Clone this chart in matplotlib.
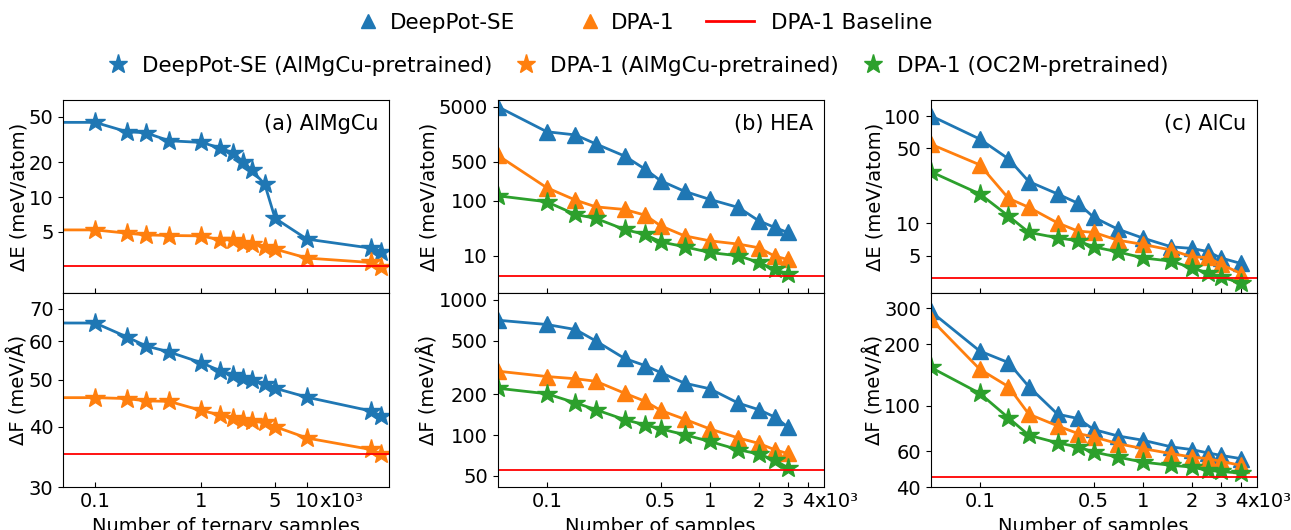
import matplotlib
matplotlib.use("Agg")
import matplotlib.pyplot as plt
from matplotlib.lines import Line2D
from matplotlib.legend_handler import HandlerLine2D
from matplotlib.ticker import NullLocator

blue, orange, green = '#1f77b4', '#ff7f0e', '#2ca02c'

# (a) AlMgCu -- x in units of 10^3 ternary samples
x_a = [0.02, 0.1, 0.2, 0.3, 0.5, 1, 1.5, 2, 2.5, 3, 4, 5, 10, 40, 50]
e_a_se_pt = [44.7, 44.7, 37.0, 36.3, 30.9, 29.9, 26.9, 24.2, 20.3, 17.2, 12.9, 6.53, 4.30, 3.59, 3.31]
e_a_dpa_pt = [5.17, 5.17, 4.84, 4.68, 4.62, 4.59, 4.24, 4.24, 4.01, 3.91, 3.70, 3.52, 2.94, 2.69, 2.48]
f_a_se_pt = [65.4, 65.4, 61.2, 58.7, 57.0, 54.2, 52.2, 51.2, 50.5, 49.9, 48.9, 48.0, 46.0, 43.1, 42.1]
f_a_dpa_pt = [45.9, 45.9, 45.7, 45.2, 45.1, 43.2, 42.3, 41.7, 41.2, 41.0, 40.8, 40.0, 37.9, 35.9, 35.1]
base_a = [2.5, 35.1]

# (b) HEA
x_b = [0.05, 0.1, 0.15, 0.2, 0.3, 0.4, 0.5, 0.7, 1, 1.5, 2, 2.5, 3]
e_b_se = [5000, 1760, 1540, 1060, 640, 372, 228, 147, 105, 75, 43, 32.7, 26.5]
e_b_dpa = [660, 171, 102, 77, 69, 54.6, 34.9, 23, 18.7, 16.3, 14.0, 9.9, 8.6]
e_b_dpa_oc = [122, 95, 56, 47.6, 30, 24.4, 17.9, 14.6, 11.5, 10, 7.6, 5.7, 4.7]
f_b_se = [708, 658, 604, 497, 369, 327, 290, 242, 220, 172, 154, 136, 115]
f_b_dpa = [297, 271, 261, 250, 204, 178, 152, 131, 111, 95, 86.7, 77.8, 73]
f_b_dpa_oc = [222, 202, 173, 154, 130, 119, 111, 100.5, 89.6, 77.8, 72.3, 65.2, 57.4]
base_b = [4.3, 55.5]

# (c) AlCu
x_c = [0.05, 0.1, 0.15, 0.2, 0.3, 0.4, 0.5, 0.7, 1, 1.5, 2, 2.5, 3, 4]
e_c_se = [100.7, 61, 39.9, 24.5, 18.8, 15.4, 11.4, 8.85, 7.3, 6.04, 5.84, 5.47, 4.77, 4.23]
e_c_dpa = [54.7, 35.1, 17.1, 14.1, 10.1, 8.47, 8.24, 6.98, 6.37, 5.63, 4.87, 4.81, 4.17, 3.41]
e_c_dpa_oc = [30.3, 18.8, 11.7, 8.24, 7.33, 6.88, 6.04, 5.43, 4.77, 4.44, 3.85, 3.45, 3.17, 2.79]
f_c_se = [289, 185, 162.5, 124, 91, 86.7, 76.6, 71.3, 67.9, 63, 61.1, 58.9, 57.3, 55.2]
f_c_dpa = [265, 150.8, 124, 91, 79.8, 73.2, 70.5, 65.4, 61.8, 58.4, 56.2, 55.2, 53.6, 51.2]
f_c_dpa_oc = [154, 115, 87.3, 71.8, 65.9, 63, 59.5, 56.2, 53.1, 51.2, 50.2, 48.4, 47.8, 46.9]
base_c = [3.1, 45]

xticks_a = [0.1, 1, 5, 10]
xlabels_a = ['0.1', '1', '5', '10']
xticks_bc = [0.1, 0.5, 1, 2, 3, 4]
xlabels_bc = ['0.1', '0.5', '1', '2', '3', '4']

yticks = {
    'a': ([5, 10, 20, 50], [30, 40, 50, 60, 70]),
    'b': ([10, 100, 500, 5000], [50, 100, 200, 500, 1000]),
    'c': ([5, 10, 50, 100], [40, 60, 100, 200, 300]),
}
ylims = {
    'a': ((1.45, 70), (30, 75.3)),
    'b': ((2.1, 6600), (41, 1120)),
    'c': ((2.23, 141), (40, 354)),
}

FS = 14
W, H = 1291, 530
fig = plt.figure(figsize=(W / 100, H / 100), dpi=100)

lefts = [63.3, 497.7, 930.7]
aw = 326 / W
axes = []
for l in lefts:
    top = fig.add_axes([l / W, (H - 293.3) / H, aw, 193.3 / H])
    bot = fig.add_axes([l / W, (H - 487.3) / H, aw, 194 / H])
    axes.append((top, bot))


def style(ax, xlim, xt, xl, yt, ylim):
    ax.set_xscale('log')
    ax.set_yscale('log')
    ax.set_xlim(*xlim)
    ax.set_ylim(*ylim)
    ax.set_xticks(xt, xl)
    ax.set_yticks(yt, [str(v) for v in yt])
    ax.xaxis.set_minor_locator(NullLocator())
    ax.yaxis.set_minor_locator(NullLocator())
    ax.tick_params(axis='x', direction='in', labelsize=FS)
    ax.tick_params(axis='y', direction='out', labelsize=FS)


def mult_label(ax, xpos, halfw):
    ax.annotate('x10³', xy=(xpos, 0), xycoords=ax.get_xaxis_transform(),
                xytext=(halfw, -3.5), textcoords='offset points',
                ha='left', va='top', fontsize=FS)


lk = dict(lw=2)
tri = dict(marker='^', ms=12)
star = dict(marker='*', ms=15)

# panel (a)
ta, ba = axes[0]
ta.plot(x_a, e_a_se_pt, color=blue, **star, **lk)
ta.plot(x_a, e_a_dpa_pt, color=orange, **star, **lk)
ta.axhline(base_a[0], color='red', lw=1.3)
ba.plot(x_a, f_a_se_pt, color=blue, **star, **lk)
ba.plot(x_a, f_a_dpa_pt, color=orange, **star, **lk)
ba.axhline(base_a[1], color='red', lw=1.3)
style(ta, (0.05, 60), xticks_a, xlabels_a, yticks['a'][0], ylims['a'][0])
style(ba, (0.05, 60), xticks_a, xlabels_a, yticks['a'][1], ylims['a'][1])
ta.tick_params(labelbottom=False)
mult_label(ba, 10, 8.9)
ba.set_xlabel('Number of ternary samples', fontsize=FS)

# panels (b) and (c)
for (tp, bt), x, e_data, f_data, base, key in [
        (axes[1], x_b, (e_b_se, e_b_dpa, e_b_dpa_oc), (f_b_se, f_b_dpa, f_b_dpa_oc), base_b, 'b'),
        (axes[2], x_c, (e_c_se, e_c_dpa, e_c_dpa_oc), (f_c_se, f_c_dpa, f_c_dpa_oc), base_c, 'c')]:
    for ax, data, b in [(tp, e_data, base[0]), (bt, f_data, base[1])]:
        ax.plot(x, data[0], color=blue, **tri, **lk)
        ax.plot(x, data[1], color=orange, **tri, **lk)
        ax.plot(x, data[2], color=green, **star, **lk)
        ax.axhline(b, color='red', lw=1.3)
    style(tp, (0.05, 5), xticks_bc, xlabels_bc, yticks[key][0], ylims[key][0])
    style(bt, (0.05, 5), xticks_bc, xlabels_bc, yticks[key][1], ylims[key][1])
    tp.tick_params(labelbottom=False)
    mult_label(bt, 4, 4.45)
    bt.set_xlabel('Number of samples', fontsize=FS)

for (tp, bt), name in zip(axes, ['(a) AlMgCu', '(b) HEA', '(c) AlCu']):
    tp.set_ylabel('ΔE (meV/atom)', fontsize=FS, labelpad=0)
    bt.set_ylabel('ΔF (meV/Å)', fontsize=FS, labelpad=0)
    tp.text(0.968, 0.877, name, transform=tp.transAxes, ha='right', va='center', fontsize=15)


class MarkerAtEnd(HandlerLine2D):
    # put the single legend marker near the right end of the handle box
    def get_xdata(self, legend, xdescent, ydescent, width, height, fontsize):
        m = -xdescent + width - 0.2 * fontsize
        return [m - 1, m + 1], [m]


LFS = 15.5
h_se = Line2D([], [], color=blue, marker='^', ls='none', ms=10)
h_dpa = Line2D([], [], color=orange, marker='^', ls='none', ms=10)
h_base = Line2D([], [], color='red', lw=2)
fig.legend([h_se, h_dpa, h_base], ['DeepPot-SE', 'DPA-1', 'DPA-1 Baseline'],
           loc='center', bbox_to_anchor=(0.487, 0.957), ncol=3, frameon=False,
           fontsize=LFS, handlelength=2.2, handletextpad=0.8, columnspacing=1.47,
           handler_map={h_se: MarkerAtEnd(), h_dpa: MarkerAtEnd()})

s_se = Line2D([], [], color=blue, marker='*', ls='none', ms=14)
s_dpa = Line2D([], [], color=orange, marker='*', ls='none', ms=14)
s_oc = Line2D([], [], color=green, marker='*', ls='none', ms=14)
fig.legend([s_se, s_dpa, s_oc],
           ['DeepPot-SE (AlMgCu-pretrained)', 'DPA-1 (AlMgCu-pretrained)', 'DPA-1 (OC2M-pretrained)'],
           loc='center', bbox_to_anchor=(0.494, 0.876), ncol=3, frameon=False,
           fontsize=LFS, handlelength=1.0, handletextpad=0.6, columnspacing=1.1)

fig.savefig('out.png', dpi=100)
